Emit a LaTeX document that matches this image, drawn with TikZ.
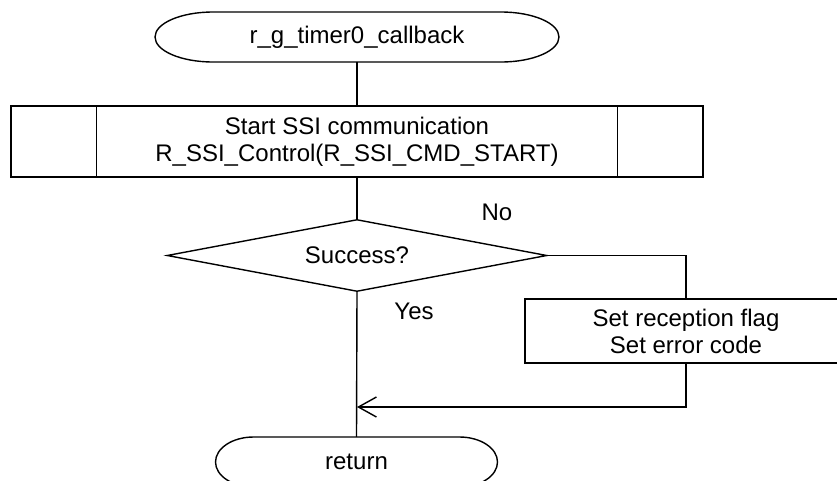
\documentclass[tikz,border=0pt]{standalone}
\usepackage{fontspec}
\setmainfont{Liberation Sans}
\usetikzlibrary{shapes.geometric,arrows.meta}
\begin{document}
\begin{tikzpicture}[x=1pt,y=-1pt,
  every node/.style={font=\fontsize{24pt}{27pt}\selectfont, inner sep=0pt},
  ln/.style={line width=1.4pt, draw=black},
  term/.style={minimum height=50pt},
  procbox/.style={ln, rectangle, minimum height=71pt, minimum width=692pt, align=center},
  actbox/.style={ln, rectangle, minimum height=64pt, minimum width=322pt, align=center},
  decbox/.style={ln, diamond, aspect=5.28, minimum width=380pt, minimum height=72pt},
  lbl/.style={}
]
\useasboundingbox (0,0) rectangle (837,480);
\clip (0,0) rectangle (837,480);
\fill[white] (0,0) rectangle (837,480);

% start terminal
\node[term, minimum width=404pt] (start) at (357,37) {r\_g\_timer0\_callback};
\draw[ln] (213,12) -- (501,12) arc[start angle=90, end angle=-90, x radius=58pt, y radius=25pt]
  -- (213,62) arc[start angle=270, end angle=90, x radius=58pt, y radius=25pt] -- cycle;

% subroutine box
\node[procbox] (ssi) at (357,141.5) {Start SSI communication\\R\_SSI\_Control(R\_SSI\_CMD\_START)};
\draw[ln] ([xshift=86pt]ssi.north west) -- ([xshift=86pt]ssi.south west);
\draw[ln] ([xshift=-86pt]ssi.north east) -- ([xshift=-86pt]ssi.south east);

% decision
\node[decbox] (dec) at (357,255.5) {Success?};
\node[lbl] (no) at (497,212) {No};
\node[lbl] (yes) at (414,311) {Yes};

% error box
\node[actbox] (err) at (686,331) {Set reception flag\\Set error code};

% return terminal
\node[term, minimum width=283pt] (ret) at (356.5,462) {return};
\draw[ln] (253.5,437) -- (459.5,437) arc[start angle=90, end angle=-90, x radius=38pt, y radius=25pt]
  -- (253.5,487) arc[start angle=270, end angle=90, x radius=38pt, y radius=25pt] -- cycle;

\coordinate (j) at (357,407);

% connectors
\draw[ln] (start.south) -- (ssi.north);
\draw[ln] (ssi.south) -- (dec.north);
\draw[ln] (dec.east) -| (err.north);
\draw[ln, -{Straight Barb[length=18pt, width=20pt, line width=1.4pt]}] (err.south) |- (j);
\draw[ln] (dec.south) -- (ret.north);
\end{tikzpicture}
\end{document}
